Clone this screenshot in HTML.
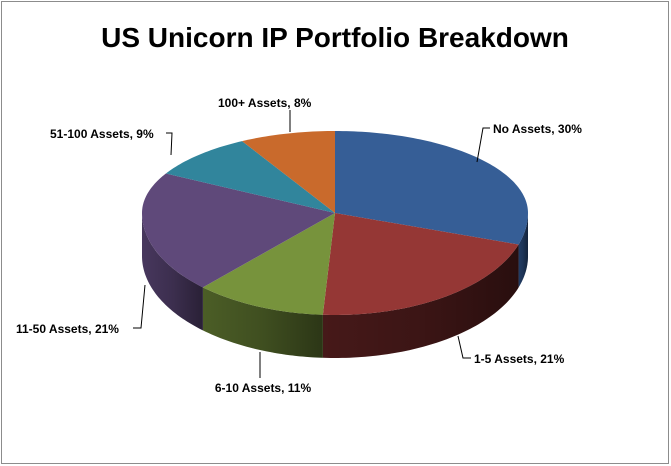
<!DOCTYPE html>
<html><head><meta charset="utf-8"><style>
body{margin:0;background:#fff}
svg{display:block;font-family:"Liberation Sans",sans-serif}
</style></head><body>
<svg id="c" width="671" height="466">
<defs>
<linearGradient id="gs" x1="0" x2="1"><stop offset="0" stop-color="#000" stop-opacity="0.05"/><stop offset="0.5" stop-color="#000" stop-opacity="0.2"/><stop offset="1" stop-color="#000" stop-opacity="0.45"/></linearGradient>
</defs>
<rect x="1.5" y="1.5" width="667" height="462" fill="#fff" stroke="#8c8c8c"/>
<text x="335" y="47" text-anchor="middle" font-size="28" font-weight="bold" fill="#000">US Unicorn IP Portfolio Breakdown</text>
<g id="pie"></g>
<g id="labels" font-size="12" font-weight="bold" fill="#000"></g>
</svg>
<script>
const categories=["No Assets","1-5 Assets","6-10 Assets","11-50 Assets","51-100 Assets","100+ Assets"];
const values=[30,21,11,21,9,8];
const topColors=["#365e96","#953735","#77933c","#5f497a","#31859c","#c96a2c"];
const sideColors=["#24406a","#4a1a1a","#4f6228","#4b3a62","#215a6a","#8a461c"];
const NS="http://www.w3.org/2000/svg";
const cx=335,cy=213,rx=193,ryT=82,ryB=102,depth=43;
function pt(t,dy){const c=Math.cos(t);return [cx+rx*Math.sin(t),cy+(c>0?-ryT*c:-ryB*c)+dy];}
function arc(a,b,dy){const p=[];const n=Math.max(2,Math.ceil((b-a)/0.02));for(let i=0;i<=n;i++)p.push(pt(a+(b-a)*i/n,dy));return p;}
const total=values.reduce((s,v)=>s+v,0);
const pie=document.getElementById('pie');
let acc=0;const ang=[];
values.forEach(v=>{const a=acc/total*2*Math.PI;acc+=v;ang.push([a,acc/total*2*Math.PI]);});
ang.forEach(([a,b],i)=>{
  const s=Math.max(a,Math.PI/2),e=Math.min(b,3*Math.PI/2);
  if(e>s){
    const pts=arc(s,e,0).concat(arc(s,e,depth).reverse());
    const d="M"+pts.map(p=>p.join(",")).join("L")+"Z";
    const p=document.createElementNS(NS,'path');p.setAttribute('d',d);p.setAttribute('fill',sideColors[i]);
    
    
    pie.appendChild(p);
    const g=document.createElementNS(NS,'path');g.setAttribute('d',d);g.setAttribute('fill','url(#gs)');
    
    
    pie.appendChild(g);
  }
});
ang.forEach(([a,b],i)=>{
  const pts=[[cx,cy]].concat(arc(a,b,0));
  const p=document.createElementNS(NS,'path');
  p.setAttribute('d',"M"+pts.map(q=>q.join(",")).join("L")+"Z");
  p.setAttribute('fill',topColors[i]);
  
  
  pie.appendChild(p);
});
const labelPos=[[493,133,"start","M477,162L483,128L490,128"],[474,363,"start","M458,336L463,358L471,358"],
[263,392,"middle","M260,352L260,378"],[16,333,"start","M145,285L141,328L133,328"],
[50,138,"start","M166,133L172,133L171,155"],[218,107,"start","M290,110L290,132"]];
const lg=document.getElementById('labels');
categories.forEach((c,i)=>{
  const L=labelPos[i];
  const l=document.createElementNS(NS,'path');l.setAttribute('d',L[3]);l.setAttribute('stroke','#000');l.setAttribute('fill','none');
  
  
  lg.appendChild(l);
  const t=document.createElementNS(NS,'text');t.setAttribute('x',L[0]);t.setAttribute('y',L[1]);t.setAttribute('text-anchor',L[2]);
  t.textContent=c+", "+values[i]+"%";
  
  
  lg.appendChild(t);
});
</script>
</body></html>
